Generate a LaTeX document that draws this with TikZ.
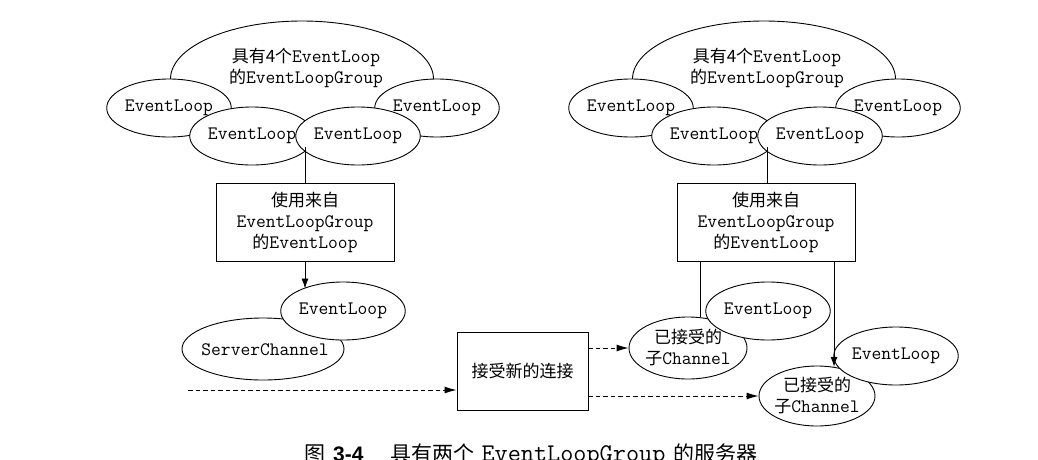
\documentclass[tikz,border=0pt]{standalone}
\usepackage{fontspec}
\setmainfont{Liberation Serif}
\newfontfamily\zhfont{Noto Sans CJK SC}
\newfontfamily\capsffont{Liberation Sans}
\usetikzlibrary{shapes.geometric,arrows.meta}
\newcommand\zhtxt[1]{{\fontsize{17}{21}\selectfont\zhfont #1}}
\begin{document}
\begin{tikzpicture}[x=1pt,y=-1pt,
  every node/.style={font=\fontsize{19}{21}\selectfont\ttfamily},
  loopnode/.style={ellipse, draw, fill=white, line width=0.9pt, minimum width=108pt, minimum height=58pt, inner sep=0pt, align=center},
  groupnode/.style={ellipse, draw, fill=white, line width=0.9pt, minimum width=263pt, minimum height=116pt, inner sep=0pt},
  boxnode/.style={draw, fill=white, line width=0.9pt, align=center, inner sep=0pt},
  conn/.style={line width=0.9pt},
  arr/.style={conn, -{Latex[length=10pt,width=7pt]}},
  darr/.style={conn, dash pattern=on 4.5pt off 3pt, -{Latex[length=12pt,width=7pt]}}
]
\useasboundingbox (0,0) rectangle (1038,459);

% ---------- left group ----------
\node[groupnode] (bigL) at (302,79) {};
\node (bigLtxt) at (306,68) [align=center] {\zhtxt{具有4个}EventLoop\\\zhtxt{的}EventLoopGroup};
\node[loopnode] (L1) at (169,108) {EventLoop};
\node[loopnode] (L4) at (437,108) {EventLoop};
\node[loopnode] (L2) at (252,136) {EventLoop};
\node[loopnode, minimum width=106pt] (L3) at (358,136) {EventLoop};
\coordinate (jL) at (305,147);
\node[boxnode, minimum width=178pt, minimum height=78pt] (boxL) at (305,222)
  {\zhtxt{使用来自}\\EventLoopGroup\\\zhtxt{的}EventLoop};
\draw[conn] (jL) -- (jL |- boxL.north);

% server channel
\node[ellipse, draw, fill=white, line width=0.9pt, minimum width=162pt, minimum height=62pt, inner sep=0pt] (sch) at (263,349) {};
\node (schtxt) at (265,350) {ServerChannel};
\node[loopnode] (elS) at (343,311) {EventLoop};
\draw[arr] (boxL.south) -- (elS.151 -| boxL.south);

% ---------- right group ----------
\node[groupnode] (bigR) at (764,79) {};
\node (bigRtxt) at (767,68) [align=center] {\zhtxt{具有4个}EventLoop\\\zhtxt{的}EventLoopGroup};
\node[loopnode] (R1) at (631,108) {EventLoop};
\node[loopnode] (R4) at (898,108) {EventLoop};
\node[loopnode] (R2) at (714,136) {EventLoop};
\node[loopnode, minimum width=106pt] (R3) at (820,136) {EventLoop};
\coordinate (jR) at (767,147);
\node[boxnode, minimum width=178pt, minimum height=78pt] (boxR) at (766,222)
  {\zhtxt{使用来自}\\EventLoopGroup\\\zhtxt{的}EventLoop};
\draw[conn] (jR) -- (jR |- boxR.north);

% children
\node[ellipse, draw, fill=white, line width=0.9pt, minimum width=118pt, minimum height=62pt, inner sep=0pt, align=center] (ch1) at (688,348) {};
\node (ch1txt) at (688,347) [align=center] {\zhtxt{已接受的}\\\zhtxt{子}Channel};
\node[loopnode] (elA) at (768,311) {EventLoop};
\node[ellipse, draw, fill=white, line width=0.9pt, minimum width=116pt, minimum height=60pt, inner sep=0pt] (ch2) at (817,396) {};
\node (ch2txt) at (817,395) [align=center] {\zhtxt{已接受的}\\\zhtxt{子}Channel};
\node[loopnode] (elB) at (896,356) {EventLoop};

\coordinate (rA) at (700,261);
\coordinate (rB) at (834,261);
\draw[conn] (rA) -- (ch1.68 -| rA);
\draw[arr] (rB) -- (ch2.60 -| rB);

% middle box
\node[boxnode, minimum width=131pt, minimum height=78pt] (boxM) at (522.5,371) {\zhtxt{接受新的连接}};
\coordinate (dstart) at (188,390);
\draw[darr] (dstart) -- (boxM.west |- dstart);
\draw[darr] (boxM.east |- ch1.west) -- (ch1.west);
\draw[darr] (boxM.east |- ch2.west) -- (ch2.west);

% caption
\node[anchor=base west, inner sep=0pt, font=\fontsize{21}{25}\selectfont] (cap) at (304,461)
  {{\zhfont 图}\hspace{8pt}{\capsffont\bfseries 3-4}\hspace{27pt}{\zhfont 具有两个}\hspace{7pt}{\ttfamily\fontsize{25.5}{25}\selectfont EventLoopGroup}\hspace{8pt}{\zhfont 的服务器}};
\end{tikzpicture}
\end{document}
